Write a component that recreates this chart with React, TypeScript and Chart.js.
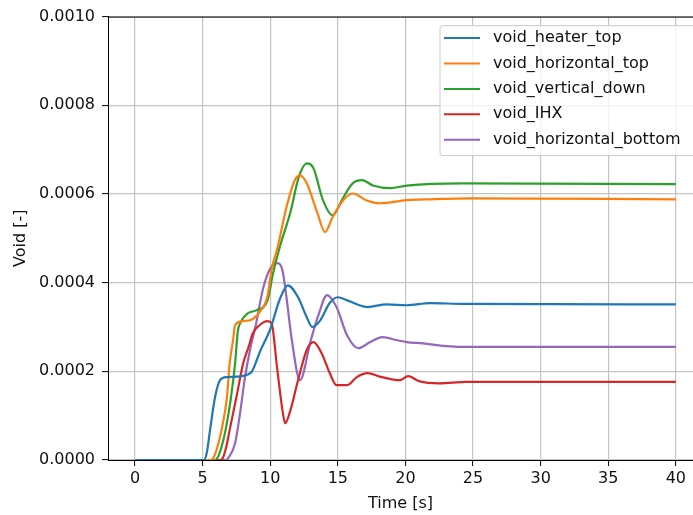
import { useEffect, useRef } from "react";
import { Chart, registerables } from "chart.js";

Chart.register(...registerables);

// Void fraction histories for each loop section (time in s, void in [-])
const heaterTopTime = [0, 5.1, 5.3, 5.55, 5.92, 6.29, 6.8, 7.5, 8.28, 8.65, 9.25, 10.0, 10.7, 11.3, 12.06, 12.7, 13.1, 13.7, 14.4, 15.0, 15.7, 16.5, 17.2, 18.6, 20.1, 21.8, 24.3, 40];
const heaterTopVoid = [0, 0, 0.15e-4, 0.68e-4, 1.42e-4, 1.8e-4, 1.87e-4, 1.88e-4, 1.92e-4, 2.0e-4, 2.45e-4, 2.95e-4, 3.62e-4, 3.94e-4, 3.67e-4, 3.22e-4, 3.0e-4, 3.15e-4, 3.54e-4, 3.67e-4, 3.6e-4, 3.5e-4, 3.45e-4, 3.51e-4, 3.49e-4, 3.54e-4, 3.52e-4, 3.51e-4];

const horizontalTopTime = [0, 5.6, 5.8, 6.1, 6.4, 6.8, 7.0, 7.25, 7.4, 7.9, 8.65, 9.25, 9.8, 10.1, 10.55, 11.2, 11.8, 12.2, 12.7, 13.5, 14.05, 14.6, 15.4, 16.1, 17.1, 18.1, 20.1, 21.8, 24.8, 40];
const horizontalTopVoid = [0, 0, 0.05e-4, 0.3e-4, 0.68e-4, 1.42e-4, 2.18e-4, 2.7e-4, 3.04e-4, 3.13e-4, 3.17e-4, 3.35e-4, 3.7e-4, 4.3e-4, 4.8e-4, 5.7e-4, 6.3e-4, 6.42e-4, 6.24e-4, 5.56e-4, 5.14e-4, 5.47e-4, 5.86e-4, 6.01e-4, 5.86e-4, 5.79e-4, 5.86e-4, 5.88e-4, 5.9e-4, 5.88e-4];

const verticalDownTime = [0, 5.9, 6.1, 6.4, 6.7, 7.1, 7.4, 7.6, 7.8, 8.3, 9.0, 9.8, 10.2, 10.7, 11.5, 12.1, 12.7, 13.2, 13.9, 14.6, 15.4, 16.1, 16.8, 17.6, 18.9, 20.1, 24.3, 40];
const verticalDownVoid = [0, 0, 0.05e-4, 0.3e-4, 0.68e-4, 1.42e-4, 2.18e-4, 2.9e-4, 3.1e-4, 3.3e-4, 3.38e-4, 3.6e-4, 4.2e-4, 4.8e-4, 5.6e-4, 6.37e-4, 6.69e-4, 6.58e-4, 5.86e-4, 5.52e-4, 5.92e-4, 6.24e-4, 6.31e-4, 6.19e-4, 6.13e-4, 6.19e-4, 6.24e-4, 6.22e-4];

const ihxTime = [0, 6.3, 6.5, 6.75, 7.0, 7.5, 8.0, 8.4, 8.7, 9.25, 9.8, 10.1, 10.5, 10.9, 11.1, 11.5, 12.0, 12.7, 13.2, 13.8, 14.4, 14.9, 15.7, 16.4, 17.2, 18.1, 19.0, 19.6, 20.2, 21.0, 22.5, 24.5, 40];
const ihxVoid = [0, 0, 0.05e-4, 0.3e-4, 0.68e-4, 1.42e-4, 2.18e-4, 2.55e-4, 2.85e-4, 3.05e-4, 3.13e-4, 3.08e-4, 2.1e-4, 1.13e-4, 0.83e-4, 1.13e-4, 1.73e-4, 2.48e-4, 2.66e-4, 2.41e-4, 1.96e-4, 1.69e-4, 1.69e-4, 1.87e-4, 1.96e-4, 1.88e-4, 1.82e-4, 1.8e-4, 1.89e-4, 1.78e-4, 1.73e-4, 1.76e-4, 1.76e-4];

const horizontalBottomTime = [0, 6.7, 6.9, 7.4, 7.77, 8.1, 8.5, 8.9, 9.5, 10.0, 10.5, 10.9, 11.2, 11.6, 12.2, 13.0, 13.6, 14.2, 14.9, 15.7, 16.5, 17.4, 18.3, 19.4, 20.1, 21.3, 23.0, 25.0, 40];
const horizontalBottomVoid = [0, 0, 0.05e-4, 0.38e-4, 1.06e-4, 1.8e-4, 2.48e-4, 3.0e-4, 3.9e-4, 4.32e-4, 4.44e-4, 4.28e-4, 3.67e-4, 2.7e-4, 1.8e-4, 2.7e-4, 3.3e-4, 3.72e-4, 3.45e-4, 2.8e-4, 2.52e-4, 2.66e-4, 2.77e-4, 2.7e-4, 2.66e-4, 2.63e-4, 2.57e-4, 2.55e-4, 2.55e-4];

const seriesLabels = ["void_heater_top", "void_horizontal_top", "void_vertical_down", "void_IHX", "void_horizontal_bottom"];
const seriesColors = ["#1f77b4", "#ff7f0e", "#2ca02c", "#d62728", "#9467bd"];

const xTickValues = [0, 5, 10, 15, 20, 25, 30, 35, 40];
const yTickValues = [0, 0.0002, 0.0004, 0.0006, 0.0008, 0.001];

// visible time window; the axes box is cut off at the right edge of the canvas
const X_MIN = -2;
const X_MAX = 41.27;

const FONT_FAMILY = '"DejaVu Sans", sans-serif';
const TEXT_COLOR = "#111";
const CANVAS_W = 693;
const CANVAS_H = 515;

// Draws the black top spine and an upper-right legend box running off the edge
const frameAndLegend = {
  id: "frameAndLegend",
  afterDraw(chart: any) {
    const { ctx, chartArea } = chart;
    ctx.save();
    ctx.strokeStyle = "#000";
    ctx.lineWidth = 1;
    ctx.beginPath();
    ctx.moveTo(chartArea.left, chartArea.top + 0.5);
    ctx.lineTo(chartArea.right, chartArea.top + 0.5);
    ctx.stroke();

    const boxLeft = chartArea.left + 332;
    const boxTop = chartArea.top + 9;
    const boxRight = chartArea.right + 3;
    const rowH = 25.4;
    const boxH = 130;
    const r = 3;
    ctx.beginPath();
    ctx.moveTo(boxLeft + r, boxTop);
    ctx.lineTo(boxRight - r, boxTop);
    ctx.arcTo(boxRight, boxTop, boxRight, boxTop + r, r);
    ctx.lineTo(boxRight, boxTop + boxH - r);
    ctx.arcTo(boxRight, boxTop + boxH, boxRight - r, boxTop + boxH, r);
    ctx.lineTo(boxLeft + r, boxTop + boxH);
    ctx.arcTo(boxLeft, boxTop + boxH, boxLeft, boxTop + boxH - r, r);
    ctx.lineTo(boxLeft, boxTop + r);
    ctx.arcTo(boxLeft, boxTop, boxLeft + r, boxTop, r);
    ctx.closePath();
    ctx.fillStyle = "rgba(255,255,255,0.8)";
    ctx.fill();
    ctx.strokeStyle = "#cccccc";
    ctx.stroke();

    ctx.font = `16px ${FONT_FAMILY}`;
    ctx.textBaseline = "middle";
    ctx.textAlign = "left";
    chart.data.datasets.forEach((ds: any, i: number) => {
      const y = boxTop + 12.5 + i * rowH;
      ctx.strokeStyle = ds.borderColor;
      ctx.lineWidth = 2;
      ctx.beginPath();
      ctx.moveTo(boxLeft + 4, y);
      ctx.lineTo(boxLeft + 40, y);
      ctx.stroke();
      ctx.fillStyle = TEXT_COLOR;
      ctx.fillText(ds.label, boxLeft + 53, y);
    });
    ctx.restore();
  },
};

export default function App() {
  const canvasRef = useRef<HTMLCanvasElement>(null);

  useEffect(() => {
    const canvas = canvasRef.current;
    if (!canvas) return;

    const series = [
      { time: heaterTopTime, values: heaterTopVoid },
      { time: horizontalTopTime, values: horizontalTopVoid },
      { time: verticalDownTime, values: verticalDownVoid },
      { time: ihxTime, values: ihxVoid },
      { time: horizontalBottomTime, values: horizontalBottomVoid },
    ];

    const font = { family: FONT_FAMILY, size: 16 };
    const grid = {
      color: "#c4c4c4",
      lineWidth: 1.2,
      tickColor: "#000",
      tickLength: 6,
      tickWidth: 1,
    };
    const border = { display: true, color: "#000", width: 1 };

    const chart = new Chart(canvas, {
      type: "line",
      data: {
        datasets: series.map((s, i) => ({
          label: seriesLabels[i],
          data: s.time.map((t, k) => ({ x: t, y: s.values[k] })),
          borderColor: seriesColors[i],
          backgroundColor: seriesColors[i],
          borderWidth: 2.2,
          pointRadius: 0,
          pointHoverRadius: 0,
          fill: false,
          cubicInterpolationMode: "monotone" as const,
        })),
      },
      options: {
        responsive: false,
        maintainAspectRatio: false,
        animation: false,
        devicePixelRatio: 1,
        layout: { autoPadding: false, padding: { top: 16, left: 0, right: 0, bottom: 0 } },
        plugins: {
          legend: { display: false },
          tooltip: { enabled: false },
        },
        scales: {
          x: {
            type: "linear",
            min: X_MIN,
            max: X_MAX,
            afterBuildTicks: (scale: any) => {
              scale.ticks = xTickValues.map((v) => ({ value: v }));
            },
            afterFit: (scale: any) => {
              scale.height = 55;
            },
            ticks: {
              font,
              color: TEXT_COLOR,
              padding: 3,
              maxRotation: 0,
              autoSkip: false,
              callback: (v: any) => String(v),
            },
            grid,
            border,
            title: {
              display: true,
              text: "Time [s]",
              font,
              color: TEXT_COLOR,
              padding: { top: 0, bottom: 2 },
            },
          },
          y: {
            type: "linear",
            min: 0,
            max: 0.001,
            afterBuildTicks: (scale: any) => {
              scale.ticks = yTickValues.map((v) => ({ value: v }));
            },
            afterFit: (scale: any) => {
              scale.width = 108;
            },
            ticks: {
              font,
              color: TEXT_COLOR,
              padding: 7,
              autoSkip: false,
              callback: (v: any) => Number(v).toFixed(4),
            },
            grid,
            border,
            title: {
              display: true,
              text: "Void [-]",
              font,
              color: TEXT_COLOR,
              padding: { top: 11, bottom: 0 },
            },
          },
        },
      },
      plugins: [frameAndLegend],
    });

    return () => chart.destroy();
  }, []);

  return (
    <div
      style={{
        position: "fixed",
        left: 0,
        top: 0,
        width: CANVAS_W,
        height: CANVAS_H,
        background: "#fff",
      }}
    >
      <canvas
        ref={canvasRef}
        width={CANVAS_W}
        height={CANVAS_H}
        style={{ display: "block", width: CANVAS_W, height: CANVAS_H }}
      />
    </div>
  );
}
